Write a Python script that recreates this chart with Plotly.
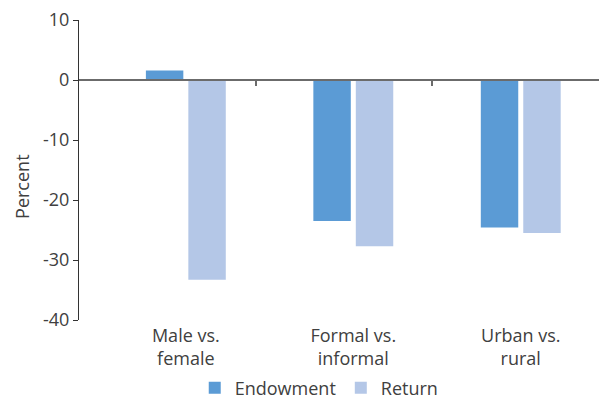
import plotly.graph_objects as go

categories = ["Male vs.<br>female", "Formal vs.<br>informal", "Urban vs.<br>rural"]
endowment = [1.6, -23.5, -24.6]
returns = [-33.3, -27.7, -25.5]
y_ticks = [10, 0, -10, -20, -30, -40]
boundary_ticks = [0.417, 1.468]

FONT = "Open Sans"
TXT = "#404040"
FS = 18
xpos = list(range(len(categories)))

fig = go.Figure()
fig.add_trace(go.Bar(x=xpos, y=endowment, name="Endowment",
                     marker=dict(color="#5B9BD5", line=dict(width=0))))
fig.add_trace(go.Bar(x=xpos, y=returns, name="Return",
                     marker=dict(color="#B4C7E7", line=dict(width=0))))
# invisible trace so the zero-line axis renders
xr = [-0.638, 2.515]
fig.add_trace(go.Scatter(x=[xr[0]], y=[0], xaxis="x2", mode="markers",
                         marker=dict(opacity=0), showlegend=False, hoverinfo="skip"))

# page body has an 8px margin, so the figure is sized 599x393
fig.update_layout(
    width=599, height=393,
    margin=dict(l=71, r=0, t=12, b=81, autoexpand=False),
    paper_bgcolor="white", plot_bgcolor="white",
    barmode="group", bargap=0.493, bargroupgap=0.118,
    font=dict(family=FONT, size=FS, color=TXT),
    showlegend=True,
    legend=dict(orientation="h", x=0.455, xanchor="center", y=-0.227, yanchor="middle",
                font=dict(size=FS, color=TXT), itemwidth=30,
                traceorder="normal"),
    xaxis=dict(range=xr, tickmode="array", tickvals=xpos, ticktext=categories,
               showline=False, showgrid=False, zeroline=False, ticks="",
               automargin=False,
               ticklabelstandoff=3, tickfont=dict(size=FS, color=TXT)),
    xaxis2=dict(range=xr, overlaying="x", anchor="free", position=0.8,
                showline=True, linecolor="#6b6b6b", linewidth=1.5,
                tickmode="array", tickvals=boundary_ticks, ticks="outside",
                ticklen=5, tickcolor="#6b6b6b", tickwidth=1.5,
                showticklabels=False, showgrid=False, zeroline=False,
                automargin=False),
    yaxis=dict(range=[-40, 10], tickmode="array", tickvals=y_ticks,
               ticktext=[str(v) for v in y_ticks],
               showline=True, linecolor="#333333", linewidth=1.2,
               ticks="outside", ticklen=5, tickcolor="#333333", tickwidth=1.2,
               showgrid=False, zeroline=False, ticklabelstandoff=0,
               ticklabeloverflow="allow",
               automargin=False,
               tickfont=dict(size=FS, color=TXT)),
    annotations=[dict(text="Percent", textangle=-90, x=-0.108, xref="paper",
                      xanchor="center", y=0.4435, yref="paper", yanchor="middle",
                      showarrow=False, font=dict(size=FS, color=TXT))],
)
fig.write_html("out.html")
